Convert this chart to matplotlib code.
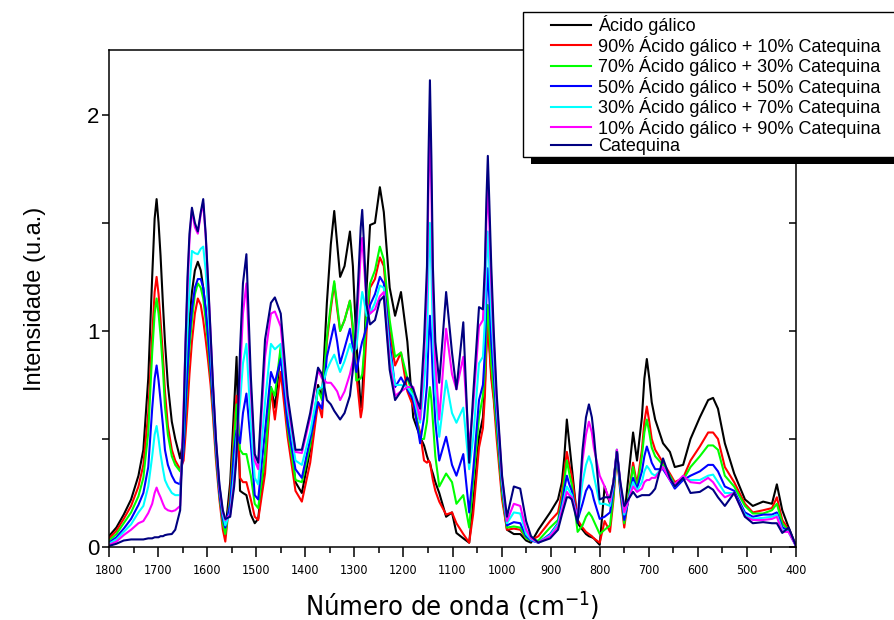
import matplotlib
matplotlib.use("Agg")
import matplotlib.pyplot as plt
from matplotlib import font_manager
from matplotlib.font_manager import FontProperties
from matplotlib.patches import Rectangle
from matplotlib.ticker import MultipleLocator
from matplotlib.lines import Line2D

# FTIR spectra: wavenumber grid (cm-1) and absorbance of each sample
wavenumber = [
    1800, 1785, 1770, 1755, 1740, 1730, 1720, 1712, 1707, 1703, 1699, 1695, 1690, 1686, 1680, 1672, 1665,
    1655, 1648, 1644, 1640, 1636, 1631, 1625, 1619, 1613, 1608, 1603, 1598, 1593, 1588, 1582, 1575, 1568, 1563,
    1553, 1545, 1540, 1533, 1527, 1520, 1511, 1503, 1496, 1482, 1470, 1462, 1450, 1436, 1420, 1407, 1390, 1374, 1366,
    1356, 1348, 1341, 1335, 1329, 1320, 1309, 1303, 1296, 1287, 1284, 1281, 1275, 1268, 1258, 1248, 1240, 1228, 1217,
    1205, 1192, 1180,
    1166, 1158, 1152, 1149, 1146, 1143, 1140, 1135, 1127, 1113, 1101, 1092, 1078, 1066, 1058, 1046, 1038, 1034, 1031,
    1028, 1025, 1021, 1016, 1010, 999,
    989, 975, 962, 950, 940, 925, 901, 885, 877, 872, 867, 862, 857, 845, 835, 828, 822, 816, 812, 800, 790, 779,
    772, 765, 758, 750,
    732, 724, 714, 709, 704, 699, 694, 687, 671, 657, 647, 630, 615, 596, 579, 569, 559, 545, 526, 504, 488, 467,
    449, 439, 428, 415, 400,
]

acido_galico = [
    .05, .09, .15, .22, .33, .45, .78, 1.25, 1.52, 1.61, 1.50, 1.35, 1.12, .95, .75, .58, .50,
    .41, .50, .70, .90, 1.05, 1.18, 1.28, 1.32, 1.28, 1.2, 1.1, .98, .85, .68, .45, .25, .12, .07,
    .30, .65, .88, .26, .25, .24, .15, .11, .13, .42, .74, .645, .91, .60, .30, .25, .45, .75, .69,
    1.13, 1.4, 1.555, 1.4, 1.25, 1.3, 1.46, 1.3, .95, .645, .70, .85, 1.2, 1.49, 1.50, 1.665, 1.55, 1.2, 1.07,
    1.18, .95, .60,
    .51, .47, .42, .40, .39, .36, .34, .30, .25, .14, .16, .065, .04, .02, .20, .51, .60, .75, .95,
    1.05, .95, .80, .70, .55, .25,
    .08, .06, .06, .03, .02, .08, .16, .22, .30, .42, .59, .48, .37, .11, .08, .06, .05, .045, .04, .01, .28, .20,
    .30, .45, .28, .14,
    .53, .40, .60, .78, .87, .78, .67, .59, .48, .44, .37, .38, .50, .60, .68, .69, .64, .48, .34, .22, .19, .21,
    .20, .29, .17, .09, .005,
]

ag90_cat10 = [
    .04, .075, .13, .19, .28, .38, .62, .98, 1.18, 1.25, 1.17, 1.05, .88, .72, .56, .45, .40,
    .36, .40, .52, .65, .80, .95, 1.08, 1.15, 1.12, 1.05, .96, .86, .75, .60, .40, .22, .08, .025,
    .25, .55, .70, .32, .30, .30, .22, .14, .125, .34, .73, .59, .81, .51, .26, .21, .39, .67, .60,
    .95, 1.1, 1.22, 1.1, 1.0, 1.05, 1.14, 1.0, .80, .60, .64, .75, 1.0, 1.2, 1.24, 1.34, 1.3, 1.0, .84,
    .90, .72, .65,
    .53, .40, .39, .40, .39, .35, .31, .26, .21, .15, .16, .11, .06, .02, .15, .46, .55, .70, .90,
    1.03, .92, .78, .68, .50, .22,
    .08, .085, .08, .04, .03, .05, .12, .16, .25, .35, .44, .38, .33, .125, .09, .07, .06, .05, .04, .02, .12, .07,
    .22, .44, .25, .09,
    .39, .29, .45, .58, .65, .58, .50, .45, .39, .34, .30, .32, .40, .465, .53, .53, .50, .37, .30, .20, .16, .17,
    .18, .23, .125, .08, .005,
]

ag70_cat30 = [
    .03, .06, .11, .16, .235, .32, .53, .90, 1.08, 1.15, 1.08, .98, .82, .65, .52, .42, .38,
    .35, .45, .62, .78, .92, 1.05, 1.17, 1.22, 1.2, 1.15, 1.05, .93, .80, .64, .43, .24, .11, .06,
    .22, .50, .66, .45, .43, .43, .33, .20, .18, .42, .74, .70, .93, .55, .31, .30, .47, .73, .68,
    .97, 1.12, 1.23, 1.12, 1.0, 1.05, 1.14, 1.02, .77, .78, .80, .88, 1.08, 1.22, 1.28, 1.39, 1.33, 1.05, .88,
    .90, .78, .70,
    .50, .50, .58, .68, .74, .68, .58, .42, .28, .34, .30, .20, .24, .09, .30, .60, .70, .82, 1.0,
    1.12, 1.0, .85, .72, .55, .25,
    .09, .095, .09, .04, .03, .03, .09, .125, .22, .31, .40, .34, .29, .07, .10, .14, .16, .14, .12, .06, .08, .10,
    .24, .44, .26, .11,
    .37, .27, .42, .53, .59, .53, .46, .42, .38, .33, .29, .31, .37, .42, .47, .47, .45, .33, .28, .19, .155, .155,
    .17, .20, .11, .075, .005,
]

ag50_cat50 = [
    .02, .045, .085, .13, .195, .25, .37, .64, .78, .84, .77, .68, .56, .45, .38, .33, .30,
    .29, .45, .65, .82, .97, 1.1, 1.2, 1.24, 1.24, 1.2, 1.1, .97, .83, .66, .45, .25, .13, .09,
    .20, .45, .54, .48, .62, .71, .48, .24, .22, .54, .81, .76, .87, .57, .36, .32, .50, .67, .64,
    .88, .96, 1.03, .95, .85, .92, 1.01, .92, .81, .92, .95, .97, 1.02, 1.12, 1.17, 1.25, 1.22, .95, .74,
    .785, .73, .68,
    .48, .60, .75, .95, 1.07, .95, .78, .58, .40, .51, .38, .33, .43, .16, .35, .68, .75, .90, 1.15,
    1.29, 1.15, .95, .80, .60, .28,
    .10, .115, .11, .05, .03, .02, .06, .11, .20, .27, .33, .29, .26, .125, .20, .26, .285, .26, .22, .13, .14, .16,
    .27, .44, .27, .125,
    .32, .27, .35, .42, .465, .43, .39, .36, .36, .31, .27, .31, .33, .35, .38, .38, .35, .28, .26, .16, .14, .15,
    .15, .16, .093, .07, .005,
]

ag30_cat70 = [
    .015, .035, .07, .105, .16, .19, .28, .42, .52, .56, .50, .43, .36, .31, .28, .25, .24,
    .24, .55, .80, 1.0, 1.2, 1.37, 1.36, 1.355, 1.38, 1.39, 1.28, 1.1, .92, .72, .48, .28, .15, .10,
    .16, .35, .50, .67, .85, .94, .57, .32, .29, .67, .94, .915, .94, .64, .40, .38, .53, .73, .74,
    .82, .86, .89, .85, .81, .86, .94, .90, .92, 1.12, 1.18, 1.15, 1.07, 1.08, 1.13, 1.21, 1.20, .90, .75,
    .75, .74, .70,
    .575, .75, .95, 1.28, 1.50, 1.28, .98, .72, .51, .77, .62, .575, .645, .36, .50, .85, .88, 1.05, 1.30,
    1.46, 1.30, 1.08, .88, .65, .30,
    .11, .16, .155, .06, .035, .02, .055, .105, .18, .23, .28, .26, .24, .13, .30, .38, .42, .38, .33, .20, .20, .19,
    .29, .45, .29, .15,
    .30, .26, .30, .35, .375, .36, .34, .33, .37, .32, .28, .32, .31, .31, .33, .335, .30, .25, .25, .15, .13, .135,
    .14, .15, .08, .07, .005,
]

ag10_cat90 = [
    .01, .025, .055, .08, .11, .12, .157, .20, .25, .275, .25, .23, .20, .18, .17, .165, .17,
    .19, .65, .95, 1.2, 1.42, 1.56, 1.48, 1.45, 1.54, 1.59, 1.44, 1.22, .98, .74, .49, .28, .16, .125,
    .15, .30, .45, .79, 1.08, 1.22, .73, .40, .36, .88, 1.08, 1.09, 1.02, .67, .44, .435, .60, .82, .78,
    .76, .76, .74, .72, .68, .72, .80, .86, 1.0, 1.36, 1.43, 1.33, 1.13, 1.08, 1.10, 1.16, 1.18, .85, .70,
    .72, .74, .74,
    .59, .88, 1.2, 1.65, 1.97, 1.65, 1.2, .85, .59, 1.01, .80, .73, .88, .465, .65, 1.02, 1.05, 1.25, 1.50,
    1.67, 1.50, 1.22, .95, .68, .32,
    .12, .20, .19, .08, .04, .02, .05, .095, .17, .21, .255, .24, .23, .13, .40, .52, .58, .53, .46, .33, .28, .21,
    .30, .45, .30, .16,
    .28, .255, .27, .30, .31, .31, .32, .32, .37, .31, .29, .33, .30, .295, .32, .30, .265, .23, .25, .14, .125, .125,
    .13, .14, .07, .07, .005,
]

catequina = [
    .005, .015, .03, .035, .035, .035, .04, .04, .045, .045, .045, .05, .05, .055, .058, .06, .08,
    .17, .60, .95, 1.25, 1.45, 1.57, 1.5, 1.46, 1.55, 1.61, 1.45, 1.23, .99, .75, .50, .29, .17, .13,
    .14, .28, .42, .91, 1.22, 1.355, .79, .43, .39, .96, 1.13, 1.155, 1.08, .70, .45, .45, .62, .83, .80,
    .68, .66, .63, .61, .59, .62, .70, .82, 1.05, 1.48, 1.56, 1.43, 1.12, 1.03, 1.05, 1.14, 1.16, .82, .68,
    .72, .785, .73,
    .64, .95, 1.3, 1.8, 2.16, 1.8, 1.3, .95, .76, 1.18, .90, .73, 1.04, .39, .70, 1.11, 1.10, 1.30, 1.60,
    1.81, 1.60, 1.30, 1.0, .71, .33,
    .14, .28, .27, .12, .05, .02, .04, .08, .15, .19, .23, .23, .22, .11, .45, .60, .66, .60, .52, .22, .23, .23,
    .30, .44, .30, .19,
    .255, .23, .24, .24, .24, .24, .25, .27, .41, .32, .28, .32, .25, .255, .28, .265, .23, .19, .25, .14, .11, .115,
    .11, .11, .065, .09, .005,
]

labels = [
    "Ácido gálico",
    "90% Ácido gálico + 10% Catequina",
    "70% Ácido gálico + 30% Catequina",
    "50% Ácido gálico + 50% Catequina",
    "30% Ácido gálico + 70% Catequina",
    "10% Ácido gálico + 90% Catequina",
    "Catequina",
]
series = [acido_galico, ag90_cat10, ag70_cat30, ag50_cat50, ag30_cat70, ag10_cat90, catequina]
colors = ["#000000", "#ff0000", "#00ff00", "#0000ff", "#00ffff", "#ff00ff", "#000080"]

for s in series:
    assert len(s) == len(wavenumber), (len(s), len(wavenumber))

plt.rcParams["font.family"] = ["Liberation Sans", "DejaVu Sans"]
plt.rcParams["mathtext.default"] = "regular"

# a narrow face for the wavenumber axis, if one is installed
narrow_files = [f.fname for f in font_manager.fontManager.ttflist
                if ("Narrow" in f.name or "Condensed" in f.name or f.stretch in ("condensed", "semi-condensed"))
                and f.style == "normal" and f.weight in (400, "normal", "regular")]
if narrow_files:
    xfont = lambda size: FontProperties(fname=sorted(narrow_files)[0], size=size)
else:
    xfont = lambda size: FontProperties(family="Liberation Sans", size=size)

W, H = 894, 620
fig = plt.figure(figsize=(W / 100, H / 100), dpi=100)
ax = fig.add_axes([109 / W, 73 / H, 687 / W, 497 / H])

for y, c in zip(series, colors):
    ax.plot(wavenumber, y, color=c, lw=1.5, solid_joinstyle="round")

ax.set_xlim(1800, 400)
ax.set_ylim(0, 2.3)
ax.xaxis.set_major_locator(MultipleLocator(100))
ax.xaxis.set_minor_locator(MultipleLocator(50))
ax.yaxis.set_major_locator(MultipleLocator(1))
ax.yaxis.set_minor_locator(MultipleLocator(0.5))
for s in ax.spines.values():
    s.set_linewidth(1.1)

ax.tick_params(axis="x", which="major", direction="out", length=7, width=1.1, pad=5)
ax.tick_params(axis="x", which="minor", direction="out", length=4, width=1.1)
ax.tick_params(axis="y", which="both", direction="out", length=5, width=1.1, pad=2)
for t in ax.get_xticklabels():
    t.set_fontproperties(xfont(9))
for t in ax.get_yticklabels():
    t.set_fontsize(16)

# inward ticks on the right frame edge
ax2 = ax.twinx()
ax2.set_ylim(0, 2.3)
ax2.yaxis.set_major_locator(MultipleLocator(0.5))
ax2.tick_params(axis="y", direction="in", length=5, width=1.1, labelright=False)
for s in ax2.spines.values():
    s.set_visible(False)

ax.set_xlabel("Número de onda (cm$^{-1}$)", fontproperties=xfont(19.5), labelpad=9)
ax.set_ylabel("Intensidade (u.a.)", fontsize=17, labelpad=29)

# legend box with drop shadow
fig.add_artist(Rectangle((531 / W, 1 - 164 / H), 380 / W, 145 / H, transform=fig.transFigure,
                         facecolor="black", edgecolor="none", zorder=3))
fig.add_artist(Rectangle((523 / W, 1 - 157 / H), 380 / W, 145 / H, transform=fig.transFigure,
                         facecolor="white", edgecolor="black", lw=1.0, zorder=4))
handles = [Line2D([], [], color=c, lw=1.5) for c in colors]
fig.legend(handles, labels, loc="upper left", bbox_to_anchor=(551 / W, 1 - 15 / H),
           frameon=False, borderpad=0, borderaxespad=0, handlelength=2.2,
           handletextpad=0.39, labelspacing=0.03, fontsize=13)

fig.savefig("out.png", dpi=100)
